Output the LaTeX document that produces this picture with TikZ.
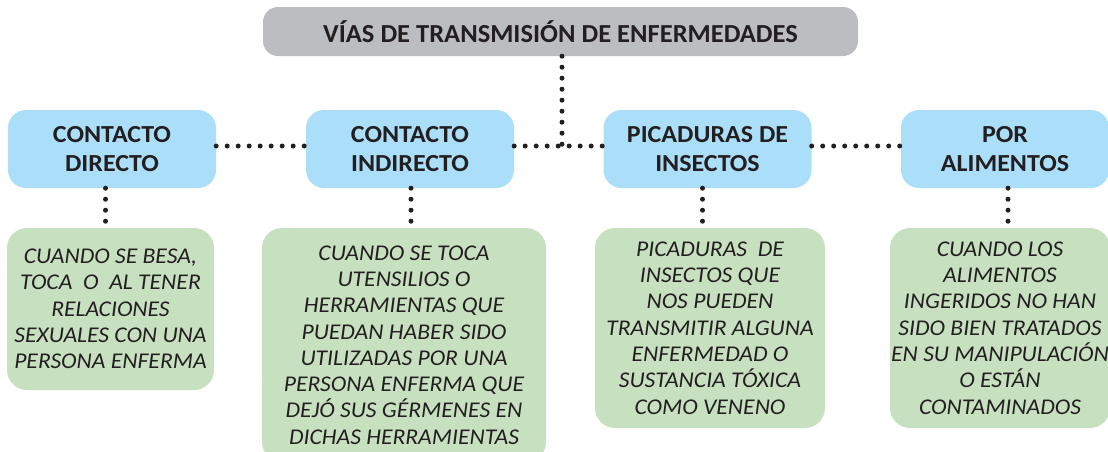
\documentclass[tikz,border=0pt]{standalone}
\usepackage{fontspec}
\setmainfont{Carlito}
\newfontfamily\titlefont{Carlito}[FakeStretch=1.02]
\newfontfamily\wayfont{Carlito}[FakeStretch=1.06]
\newfontfamily\descfont{Carlito}[FakeStretch=1.05]
\usetikzlibrary{positioning, calc}

\definecolor{titlegray}{RGB}{188,189,192}
\definecolor{wayblue}{RGB}{171,222,248}
\definecolor{descgreen}{RGB}{199,224,192}
\definecolor{inkdark}{RGB}{35,31,32}

\begin{document}
\begin{tikzpicture}[
    x=1pt, y=-1pt,
    title/.style={fill=titlegray, rounded corners=15pt, minimum width=595pt, minimum height=49pt, inner sep=0pt, text=inkdark, font=\titlefont\bfseries\fontsize{26}{30}\selectfont},
    way/.style={fill=wayblue, rounded corners=18pt, minimum width=208pt, minimum height=78pt, inner sep=0pt, align=center, text=inkdark, font=\wayfont\bfseries\fontsize{24.5}{29.3}\selectfont},
    desc/.style={fill=descgreen, rounded corners=20pt, inner sep=0pt, align=center, text=inkdark, font=\descfont\itshape\fontsize{22.5}{26.3}\selectfont},
    dots/.style={line width=5pt, line cap=round, dash pattern=on 0pt off 11pt, draw=inkdark}
]
\useasboundingbox (0,0) rectangle (1108,451);

% title
\node[title] (Title) at (560.5, 31.5) {VÍAS DE TRANSMISIÓN DE ENFERMEDADES};

% ways of transmission
\node[way] (Direct) at (112, 149) {CONTACTO\\DIRECTO};
\node[way] (Indirect) at (410, 149) {CONTACTO\\INDIRECTO};
\node[way] (Insects) at (707.5, 149) {PICADURAS DE\\INSECTOS};
\node[way] (Food) at (1005, 149) {POR\\ALIMENTOS};

% descriptions
\node[desc, minimum width=207pt, minimum height=162pt] (DirectTxt) at (110.5, 309) {CUANDO SE BESA,\\TOCA \ O \ AL TENER\\RELACIONES\\SEXUALES CON UNA\\PERSONA ENFERMA};
\node[desc, minimum width=284pt, minimum height=234pt] (IndirectTxt) at (404, 345) {CUANDO SE TOCA\\UTENSILIOS O\\HERRAMIENTAS QUE\\PUEDAN HABER SIDO\\UTILIZADAS POR UNA\\PERSONA ENFERMA QUE\\DEJÓ SUS GÉRMENES EN\\DICHAS HERRAMIENTAS};
\node[desc, minimum width=230pt, minimum height=200pt] (InsectsTxt) at (710, 328) {PICADURAS \ DE\\INSECTOS QUE\\NOS PUEDEN\\TRANSMITIR ALGUNA\\ENFERMEDAD O\\SUSTANCIA TÓXICA\\COMO VENENO};
\node[desc, minimum width=220pt, minimum height=200pt] (FoodTxt) at (1000, 328) {CUANDO LOS\\ALIMENTOS\\INGERIDOS NO HAN\\SIDO BIEN TRATADOS\\EN SU MANIPULACIÓN\\O ESTÁN\\CONTAMINADOS};

% dotted connectors
\coordinate (Hub) at ([xshift=1.5pt, yshift=3pt]Title.south |- Indirect.east);
\draw[dots] ([xshift=1.5pt]Title.south) -- (Hub);
\draw[dots] ([yshift=3pt]Direct.east) -- ([yshift=3pt]Indirect.west);
\draw[dots] ([yshift=3pt]Indirect.east) -- ([yshift=3pt]Insects.west);
\draw[dots] ([yshift=3pt]Insects.east) -- ([yshift=3pt]Food.west);
\draw[dots] ([xshift=-6.5pt]Direct.south) -- ([xshift=-6.5pt]Direct.south |- DirectTxt.north);
\draw[dots] ([xshift=1pt]Indirect.south) -- ([xshift=1pt]Indirect.south |- IndirectTxt.north);
\draw[dots] ([xshift=-5pt]Insects.south) -- ([xshift=-5pt]Insects.south |- InsectsTxt.north);
\draw[dots] ([xshift=3pt]Food.south) -- ([xshift=3pt]Food.south |- FoodTxt.north);
\end{tikzpicture}
\end{document}
